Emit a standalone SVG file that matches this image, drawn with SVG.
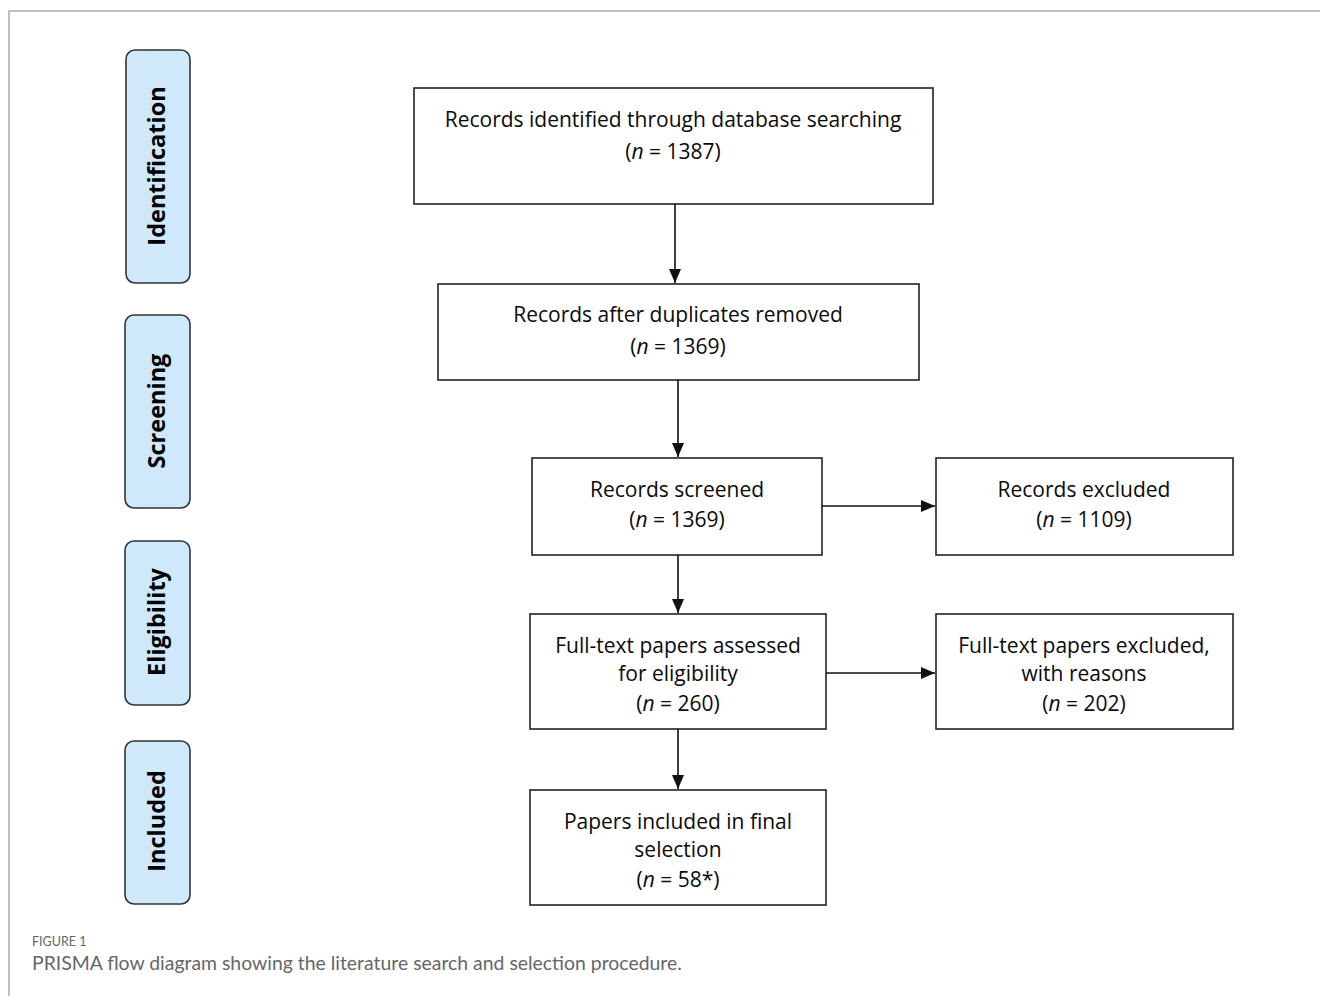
<svg xmlns="http://www.w3.org/2000/svg" width="1320" height="996" viewBox="0 0 1320 996">
<defs>
<style>
.box{fill:#fff;stroke:#222;stroke-width:1.6}
.stage{fill:#cfe9fb;stroke:#333;stroke-width:1.6}
.t{font-family:"Open Sans","Liberation Sans",sans-serif;font-size:21px;fill:#0a0a0a;text-anchor:middle}
.s{font-family:"Open Sans","Liberation Sans",sans-serif;font-weight:bold;font-size:23.5px;fill:#000;text-anchor:middle}
.c{stroke:#111;stroke-width:1.6;fill:none;marker-end:url(#ah)}
</style>
<marker id="ah" viewBox="0 0 14 12" refX="14" refY="6" markerWidth="14" markerHeight="12" markerUnits="userSpaceOnUse" orient="auto"><path d="M0,0 L14,6 L0,12 z" fill="#111"/></marker>
</defs>
<rect width="1320" height="996" fill="#fff"/>
<path d="M9,996 V11 H1320" fill="none" stroke="#aaa" stroke-width="1.5"/>
<g id="stage-identification"><rect class="stage" x="126" y="50" width="64" height="233" rx="9"/><text class="s" transform="translate(165,166) rotate(-90)">Identification</text></g>
<g id="stage-screening"><rect class="stage" x="125" y="315" width="65" height="193" rx="9"/><text class="s" transform="translate(165,411) rotate(-90)">Screening</text></g>
<g id="stage-eligibility"><rect class="stage" x="125" y="541" width="65" height="164" rx="9"/><text class="s" transform="translate(165,622) rotate(-90)">Eligibility</text></g>
<g id="stage-included"><rect class="stage" x="125" y="741" width="65" height="163" rx="9"/><text class="s" transform="translate(165,821) rotate(-90)">Included</text></g>
<g id="n1"><rect class="box" x="414" y="88" width="519" height="116"/><text class="t" x="673" y="127">Records identified through database searching</text><text class="t" x="673" y="159">(<tspan font-style="italic">n</tspan> = 1387)</text></g>
<g id="n2"><rect class="box" x="438" y="284" width="481" height="96"/><text class="t" x="678" y="322">Records after duplicates removed</text><text class="t" x="678" y="354">(<tspan font-style="italic">n</tspan> = 1369)</text></g>
<g id="n3"><rect class="box" x="532" y="458" width="290" height="97"/><text class="t" x="677" y="497">Records screened</text><text class="t" x="677" y="527">(<tspan font-style="italic">n</tspan> = 1369)</text></g>
<g id="n4"><rect class="box" x="936" y="458" width="297" height="97"/><text class="t" x="1084" y="497">Records excluded</text><text class="t" x="1084" y="527">(<tspan font-style="italic">n</tspan> = 1109)</text></g>
<g id="n5"><rect class="box" x="530" y="614" width="296" height="115"/><text class="t" x="678" y="653">Full-text papers assessed</text><text class="t" x="678" y="681">for eligibility</text><text class="t" x="678" y="711">(<tspan font-style="italic">n</tspan> = 260)</text></g>
<g id="n6"><rect class="box" x="936" y="614" width="297" height="115"/><text class="t" x="1084" y="653">Full-text papers excluded,</text><text class="t" x="1084" y="681">with reasons</text><text class="t" x="1084" y="711">(<tspan font-style="italic">n</tspan> = 202)</text></g>
<g id="n7"><rect class="box" x="530" y="790" width="296" height="115"/><text class="t" x="678" y="829">Papers included in final</text><text class="t" x="678" y="857">selection</text><text class="t" x="678" y="887">(<tspan font-style="italic">n</tspan> = 58*)</text></g>
<g id="connectors">
<line class="c" x1="675" y1="204" x2="675" y2="283"/>
<line class="c" x1="678" y1="380" x2="678" y2="457"/>
<line class="c" x1="678" y1="555" x2="678" y2="613"/>
<line class="c" x1="678" y1="729" x2="678" y2="789"/>
<line class="c" x1="822" y1="506" x2="935" y2="506"/>
<line class="c" x1="826" y1="673" x2="935" y2="673"/>
</g>
<text x="32" y="946" font-family="Lato,'Liberation Sans',sans-serif" font-size="12.5" fill="#666">FIGURE 1</text>
<text x="32" y="970" font-family="Lato,'Liberation Sans',sans-serif" font-size="19.4" fill="#666">PRISMA flow diagram showing the literature search and selection procedure.</text>
</svg>
